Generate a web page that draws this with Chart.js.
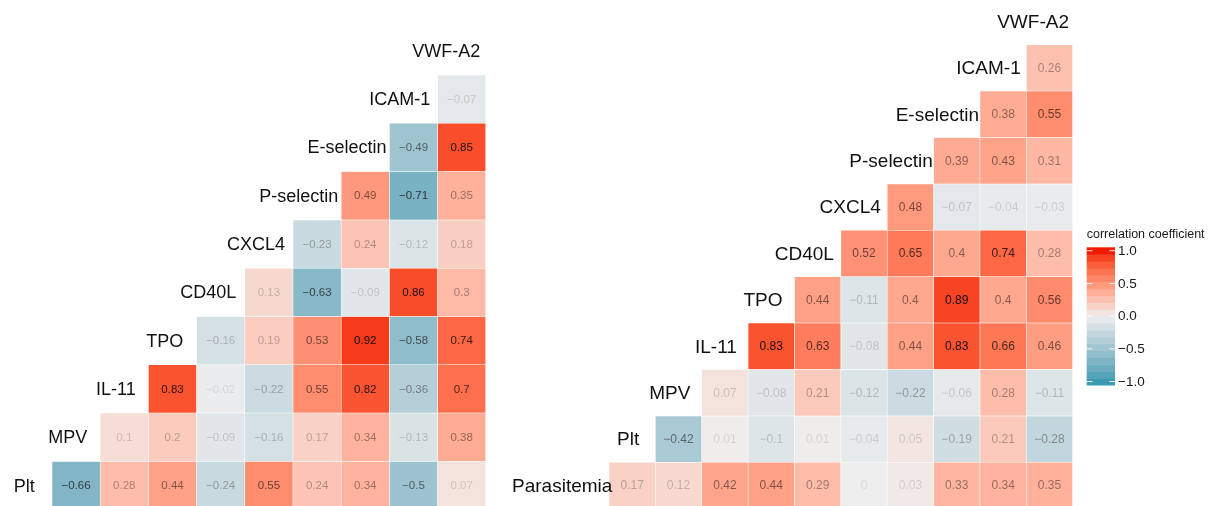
<!DOCTYPE html>
<html><head><meta charset="utf-8">
<script src="https://cdn.jsdelivr.net/npm/chart.js@4.4.1/dist/chart.umd.min.js"></script>
<style>
html,body{margin:0;padding:0;background:#fff;overflow:hidden;width:1223px;height:506px;}
canvas{position:absolute;}
#left{left:0;top:0;}
#right{left:500px;top:-10px;}
</style></head><body>
<canvas id="left" width="500" height="520"></canvas>
<canvas id="right" width="723" height="530"></canvas>
<script>
// ---------- data: left panel ----------
const leftVars = ["Plt","MPV","IL-11","TPO","CD40L","CXCL4","P-selectin","E-selectin","ICAM-1","VWF-A2"];
const L_Plt   = [-0.66, 0.28, 0.44, -0.24, 0.55, 0.24, 0.34, -0.5, 0.07];
const L_MPV   = [0.1, 0.2, -0.09, -0.16, 0.17, 0.34, -0.13, 0.38];
const L_IL11  = [0.83, -0.02, -0.22, 0.55, 0.82, -0.36, 0.7];
const L_TPO   = [-0.16, 0.19, 0.53, 0.92, -0.58, 0.74];
const L_CD40L = [0.13, -0.63, -0.09, 0.86, 0.3];
const L_CXCL4 = [-0.23, 0.24, -0.12, 0.18];
const L_Psel  = [0.49, -0.71, 0.35];
const L_Esel  = [-0.49, 0.85];
const L_ICAM  = [-0.07];
const leftRows = [L_Plt, L_MPV, L_IL11, L_TPO, L_CD40L, L_CXCL4, L_Psel, L_Esel, L_ICAM];

// ---------- data: right panel ----------
const rightVars = ["Parasitemia","Plt","MPV","IL-11","TPO","CD40L","CXCL4","P-selectin","E-selectin","ICAM-1","VWF-A2"];
const R_Para  = [0.17, 0.12, 0.42, 0.44, 0.29, 0, 0.03, 0.33, 0.34, 0.35];
const R_Plt   = [-0.42, 0.01, -0.1, 0.01, -0.04, 0.05, -0.19, 0.21, -0.28];
const R_MPV   = [0.07, -0.08, 0.21, -0.12, -0.22, -0.06, 0.28, -0.11];
const R_IL11  = [0.83, 0.63, -0.08, 0.44, 0.83, 0.66, 0.46];
const R_TPO   = [0.44, -0.11, 0.4, 0.89, 0.4, 0.56];
const R_CD40L = [0.52, 0.65, 0.4, 0.74, 0.28];
const R_CXCL4 = [0.48, -0.07, -0.04, -0.03];
const R_Psel  = [0.39, 0.43, 0.31];
const R_Esel  = [0.38, 0.55];
const R_ICAM  = [0.26];
const rightRows = [R_Para, R_Plt, R_MPV, R_IL11, R_TPO, R_CD40L, R_CXCL4, R_Psel, R_Esel, R_ICAM];

// ---------- legend ----------
const legendTitle = "correlation coefficient";
const legendBreaks = [1.0, 0.5, 0.0, -0.5, -1.0];
const legendLabels = ["1.0", "0.5", "0.0", "\u22120.5", "\u22121.0"];
const legendBins = 20;

// ---------- colour scale (Lab interpolation, like ggplot gradient2) ----------
const LOW = "#3B9AB2", MID = "#EEEEEE", HIGH = "#F21A00";
function hexRgb(h){ return [1,3,5].map(i=>parseInt(h.substr(i,2),16)); }
function lin(c){ c/=255; return c<=0.04045? c/12.92 : Math.pow((c+0.055)/1.055,2.4); }
function delin(c){ const v = c<=0.0031308? 12.92*c : 1.055*Math.pow(c,1/2.4)-0.055; return Math.round(Math.max(0,Math.min(1,v))*255); }
const Xn=0.95047, Yn=1.0, Zn=1.08883;
function f(t){ return t>0.008856? Math.cbrt(t) : 7.787*t+16/116; }
function finv(t){ return t>0.206893? t*t*t : (t-16/116)/7.787; }
function rgbLab(rgb){
  const [R,G,B]=rgb.map(lin);
  const X=0.4124564*R+0.3575761*G+0.1804375*B;
  const Y=0.2126729*R+0.7151522*G+0.0721750*B;
  const Z=0.0193339*R+0.1191920*G+0.9503041*B;
  const fx=f(X/Xn), fy=f(Y/Yn), fz=f(Z/Zn);
  return [116*fy-16, 500*(fx-fy), 200*(fy-fz)];
}
function labRgb([L,a,b]){
  const fy=(L+16)/116, fx=fy+a/500, fz=fy-b/200;
  const X=Xn*finv(fx), Y=Yn*finv(fy), Z=Zn*finv(fz);
  const R= 3.2404542*X-1.5371385*Y-0.4985314*Z;
  const G=-0.9692660*X+1.8760108*Y+0.0415560*Z;
  const B= 0.0556434*X-0.2040259*Y+1.0572252*Z;
  return [delin(R),delin(G),delin(B)];
}
const labLow=rgbLab(hexRgb(LOW)), labMid=rgbLab(hexRgb(MID)), labHigh=rgbLab(hexRgb(HIGH));
function colorFor(v){
  const t=Math.min(1,Math.abs(v)); const end = v>=0? labHigh : labLow;
  const lab=labMid.map((m,i)=>m+(end[i]-m)*t);
  const c=labRgb(lab); return `rgb(${c[0]},${c[1]},${c[2]})`;
}
function fmt(v){ return v<0? "\u2212"+String(Math.abs(v)) : String(v); }

function buildDatasets(vars, rows){
  return rows.map((vals,i)=>({
    data: vars.map((_,c)=> c>i ? [i, i+1] : null),
    backgroundColor: vars.map((_,c)=> c>i ? colorFor(vals[c-i-1]) : 'rgba(0,0,0,0)'),
    borderColor: 'rgba(255,255,255,0.45)',
    borderWidth: 0.6,
    borderSkipped: false,
    grouped: false,
    barPercentage: 1,
    categoryPercentage: 1
  }));
}

function textPlugin(vars, rows, cellPx, labelPx){
  const abs = rows.flat().map(Math.abs);
  const mn = Math.min(...abs), mx = Math.max(...abs);
  return {
    id: 'heatText',
    afterDatasetsDraw(chart){
      const ctx=chart.ctx, xs=chart.scales.x, ys=chart.scales.y;
      ctx.save();
      ctx.font = cellPx+'px "Liberation Sans", Arial, sans-serif';
      ctx.textAlign='center'; ctx.textBaseline='middle';
      rows.forEach((vals,i)=>vals.forEach((v,j)=>{
        const c=i+1+j;
        const a=0.1+0.9*(Math.abs(v)-mn)/(mx-mn);
        ctx.fillStyle=`rgba(20,10,10,${a.toFixed(3)})`;
        ctx.fillText(fmt(v), xs.getPixelForValue(c), ys.getPixelForValue(i+0.5)+0.5);
      }));
      ctx.font = labelPx+'px "Liberation Sans", Arial, sans-serif';
      ctx.fillStyle='#111'; ctx.textAlign='left';
      vars.forEach((name,k)=>{
        const w=ctx.measureText(name).width;
        ctx.fillText(name, xs.getPixelForValue(k)+1.5-0.75*w, ys.getPixelForValue(k+0.5)+1);
      });
      ctx.restore();
    }
  };
}

const legendPlugin = {
  id: 'colorbar',
  afterDraw(chart){
    const ctx=chart.ctx;
    const x0=586.7, x1=615, top=257.3, bot=395, H=bot-top;
    ctx.save();
    ctx.font='12.5px "Liberation Sans", Arial, sans-serif';
    ctx.fillStyle='#1a1a1a'; ctx.textAlign='left'; ctx.textBaseline='middle';
    ctx.fillText(legendTitle, x0, 245);
    const bh=H/legendBins;
    for(let i=0;i<legendBins;i++){
      const v=-1+2*i/(legendBins-1);
      ctx.fillStyle=colorFor(v);
      ctx.fillRect(x0, bot-(i+1)*bh, x1-x0, bh+0.5);
    }
    ctx.strokeStyle='rgba(255,255,255,0.9)'; ctx.lineWidth=1;
    ctx.font='13.5px "Liberation Sans", Arial, sans-serif';
    legendBreaks.forEach((b,k)=>{
      const y=bot-(0.5+(b+1)/2*(legendBins-1))/legendBins*H;
      ctx.beginPath(); ctx.moveTo(x0,y); ctx.lineTo(x0+5.7,y); ctx.moveTo(x1-5.7,y); ctx.lineTo(x1,y); ctx.stroke();
      ctx.fillStyle='#1a1a1a';
      ctx.fillText(legendLabels[k], 618, y+0.5);
    });
    ctx.restore();
  }
};

function makeChart(id, vars, rows, padding, cellPx, labelPx, extra){
  return new Chart(document.getElementById(id), {
    type:'bar',
    data:{ labels: vars, datasets: buildDatasets(vars, rows) },
    options:{
      responsive:false, animation:false, devicePixelRatio:1,
      layout:{ padding },
      plugins:{ legend:{display:false}, tooltip:{enabled:false} },
      scales:{
        x:{ display:false, offset:true },
        y:{ display:false, min:0, max:vars.length }
      }
    },
    plugins:[textPlugin(vars, rows, cellPx, labelPx)].concat(extra||[])
  });
}

makeChart('left', leftVars, leftRows, {left:3.8, right:14.2, top:26.7, bottom:10.3}, 11.5, 18);
makeChart('right', rightVars, rightRows, {left:62.6, right:150.3, top:8.3, bottom:11.3}, 12, 19, [legendPlugin]);
</script>
</body></html>
